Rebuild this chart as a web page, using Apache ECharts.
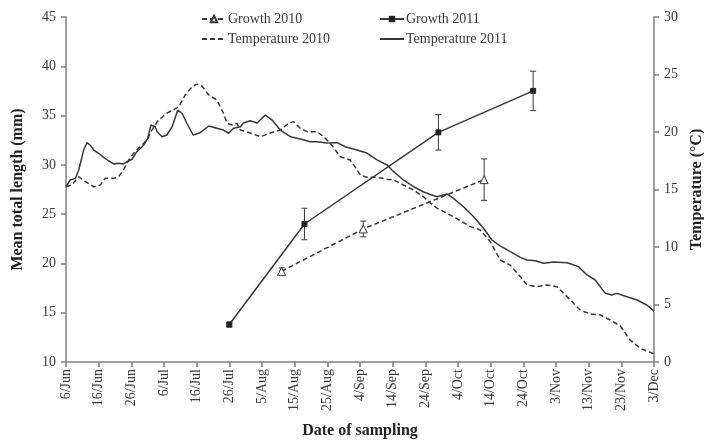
<!DOCTYPE html>
<html>
<head>
<meta charset="utf-8">
<script src="https://cdn.jsdelivr.net/npm/echarts@6/dist/echarts.min.js"></script>
<style>
html,body{margin:0;padding:0;background:#fff;}
#chart{width:704px;height:440px;}
</style>
</head>
<body>
<div id="chart"></div>
<script>
// x values are days since 6 June
const xTickLabels = ['6/Jun','16/Jun','26/Jun','6/Jul','16/Jul','26/Jul','5/Aug','15/Aug','25/Aug','4/Sep','14/Sep','24/Sep','4/Oct','14/Oct','24/Oct','3/Nov','13/Nov','23/Nov','3/Dec'];

const growth2010Days = [66, 91, 128];
const growth2010Mean = [19.2, 23.5, 28.5];
const growth2010Err  = [0.35, 0.8, 2.1];

const growth2011Days = [50, 73, 114, 143];
const growth2011Mean = [13.8, 24.0, 33.3, 37.5];
const growth2011Err  = [0.25, 1.6, 1.8, 2.0];

const temp2010 = [
[0,15.24],[1.8,15.39],[3.9,16.11],[5.9,15.68],[8.5,15.24],[10.5,15.39],[12.0,15.97],[14.6,15.97],[16.1,16.11],[17.6,16.70],[19.2,17.57],[20.7,18.15],[22.7,18.72],[24.8,19.30],[26.3,20.17],[28.3,21.04],[30.9,21.63],[34.5,22.20],[36.5,23.22],[38.6,23.94],[40.1,24.17],[41.6,24.00],[43.7,23.22],[46.2,22.78],[48.2,21.63],[49.3,20.76],[50.8,20.61],[52.3,20.76],[53.4,20.17],[56.4,19.91],[59.5,19.59],[62.5,19.91],[65.6,20.17],[68.1,20.76],[69.7,20.90],[71.7,20.32],[73.8,20.03],[76.8,20.03],[78.9,19.59],[80.9,19.02],[84.0,17.85],[87.0,17.57],[89.1,16.70],[90.1,16.26],[92.1,16.06],[95.2,16.06],[98.3,15.89],[100.3,15.83],[103.3,15.39],[106.4,14.96],[109.5,14.35],[111.5,13.83],[113.6,13.37],[118.6,12.63],[123.8,11.77],[126.8,11.48],[129.9,10.46],[132.9,8.87],[136.0,8.43],[139.1,7.42],[141.1,6.70],[144.2,6.55],[147.2,6.70],[150.3,6.55],[153.4,5.68],[157.4,4.52],[160.5,4.17],[163.6,4.09],[166.6,3.65],[169.7,3.13],[172.7,1.91],[175.8,1.19],[180,0.70]
];

const temp2011 = [
[0,15.24],[1.3,15.83],[2.9,15.97],[3.9,16.70],[5.4,18.43],[6.4,19.07],[7.4,18.87],[8.5,18.43],[10.0,18.15],[11.5,17.80],[13.0,17.50],[14.6,17.22],[16.1,17.28],[17.6,17.22],[18.7,17.42],[20.2,17.63],[21.7,18.29],[23.8,18.87],[25.0,19.45],[26.0,20.61],[27.3,20.46],[27.9,20.03],[29.4,19.59],[30.9,19.74],[32.5,20.46],[34.2,21.91],[35.5,21.63],[37.0,20.76],[38.9,19.74],[41.1,19.94],[43.7,20.52],[46.2,20.32],[48.2,20.17],[49.8,19.89],[51.3,20.32],[53.4,20.46],[54.3,20.78],[56.4,20.98],[58.5,20.78],[61.0,21.48],[63.1,21.04],[65.6,20.17],[68.7,19.59],[71.7,19.39],[74.8,19.16],[76.8,19.16],[79.9,19.04],[83.0,19.07],[85.5,18.72],[89.1,18.43],[92.1,18.17],[95.2,17.57],[98.3,17.13],[100.3,16.55],[103.3,15.83],[106.4,15.24],[109.5,14.78],[111.5,14.57],[113.6,14.37],[116.6,14.61],[118.6,14.23],[121.7,13.50],[124.8,12.63],[127.8,11.63],[130.4,10.61],[132.9,10.09],[136.0,9.59],[139.1,9.10],[141.1,8.87],[143.7,8.81],[146.2,8.58],[149.3,8.70],[153.4,8.63],[156.9,8.29],[159.5,7.57],[162.0,7.13],[165.1,5.97],[167.1,5.83],[168.7,5.97],[171.7,5.68],[174.8,5.39],[177.8,4.96],[180,4.43]
];

const FONT = '"Liberation Serif", "DejaVu Serif", serif';
const LINE = '#383838';
const AXIS = '#808080';
const TXT = '#3a3a3a';

function pairs(xs, ys){ return xs.map((x,i)=>[x, ys[i]]); }
function errData(xs, ys, es){ return xs.map((x,i)=>[x, ys[i]-es[i], ys[i]+es[i]]); }

function errRender(params, api){
  const x = api.value(0);
  const lo = api.coord([x, api.value(1)]);
  const hi = api.coord([x, api.value(2)]);
  const w = 3;
  const st = {stroke: LINE, lineWidth: 1};
  return {type:'group', children:[
    {type:'line', shape:{x1:lo[0], y1:lo[1], x2:hi[0], y2:hi[1]}, style:st},
    {type:'line', shape:{x1:lo[0]-w, y1:lo[1], x2:lo[0]+w, y2:lo[1]}, style:st},
    {type:'line', shape:{x1:hi[0]-w, y1:hi[1], x2:hi[0]+w, y2:hi[1]}, style:st}
  ]};
}

const chart = echarts.init(document.getElementById('chart'), null, {renderer:'canvas'});
const axisCommon = {
  axisLine:{show:true, lineStyle:{color:AXIS, width:1.5}},
  axisTick:{show:true, inside:false, length:5, lineStyle:{color:AXIS, width:1.5}},
  splitLine:{show:false},
  axisLabel:{color:TXT, fontFamily:FONT, fontSize:14},
  nameTextStyle:{color:'#222', fontFamily:FONT, fontSize:16, fontWeight:'bold'}
};
const legendText = {color:TXT, fontFamily:FONT, fontSize:14, padding:[0,0,0,-3]};
chart.setOption({
  backgroundColor:'#fff',
  animation:false,
  textStyle:{fontFamily:FONT},
  grid:{left:66, right:50, top:17, bottom:78, containLabel:false, outerBoundsMode:'none'},
  legend:[
    {left:196, top:7, orient:'vertical', itemGap:6, itemWidth:24, itemHeight:8, textStyle:legendText,
     data:['Growth 2010', {name:'Temperature 2010', itemStyle:{opacity:0}}]},
    {left:374, top:7, orient:'vertical', itemGap:6, itemWidth:24, itemHeight:8, textStyle:legendText,
     data:['Growth 2011', {name:'Temperature 2011', itemStyle:{opacity:0}}]}
  ],
  xAxis:Object.assign({}, axisCommon, {
    type:'value', min:0, max:180, interval:10,
    name:'Date of sampling', nameLocation:'middle', nameGap:61,
    axisLabel:Object.assign({}, axisCommon.axisLabel, {rotate:90, margin:7,
      formatter:(v)=>xTickLabels[Math.round(v/10)]})
  }),
  yAxis:[
    Object.assign({}, axisCommon, {
      type:'value', min:10, max:45, interval:5, position:'left',
      name:'Mean total length (mm)', nameLocation:'middle', nameGap:40, nameRotate:90,
      axisLabel:Object.assign({}, axisCommon.axisLabel, {margin:10})
    }),
    Object.assign({}, axisCommon, {
      type:'value', min:0, max:30, interval:5, position:'right',
      name:'Temperature (\u00B0C)', nameLocation:'middle', nameGap:32, nameRotate:90,
      axisLabel:Object.assign({}, axisCommon.axisLabel, {margin:10})
    })
  ],
  series:[
    {name:'Temperature 2010', type:'line', yAxisIndex:1, data:temp2010, symbol:'none', smooth:false,
     lineStyle:{color:LINE, width:1.5, type:[5,3]}, itemStyle:{color:LINE}, z:2},
    {name:'Temperature 2011', type:'line', yAxisIndex:1, data:temp2011, symbol:'none',
     lineStyle:{color:LINE, width:1.5}, itemStyle:{color:LINE}, z:2},
    {name:'Growth 2010', type:'line', yAxisIndex:0, data:pairs(growth2010Days, growth2010Mean),
     symbol:'triangle', symbolSize:8, showSymbol:true,
     lineStyle:{color:LINE, width:1.5, type:[5,3]}, itemStyle:{color:'#fff', borderColor:LINE, borderWidth:1}, z:4},
    {name:'Growth 2011', type:'line', yAxisIndex:0, data:pairs(growth2011Days, growth2011Mean),
     symbol:'rect', symbolSize:5, showSymbol:true,
     lineStyle:{color:LINE, width:1.5}, itemStyle:{color:'#222', borderColor:'#222'}, z:4},
    {name:'err2010', type:'custom', yAxisIndex:0, renderItem:errRender,
     data:errData(growth2010Days, growth2010Mean, growth2010Err), z:3, encode:{x:0, y:[1,2]}},
    {name:'err2011', type:'custom', yAxisIndex:0, renderItem:errRender,
     data:errData(growth2011Days, growth2011Mean, growth2011Err), z:3, encode:{x:0, y:[1,2]}}
  ]
});
</script>
</body>
</html>
